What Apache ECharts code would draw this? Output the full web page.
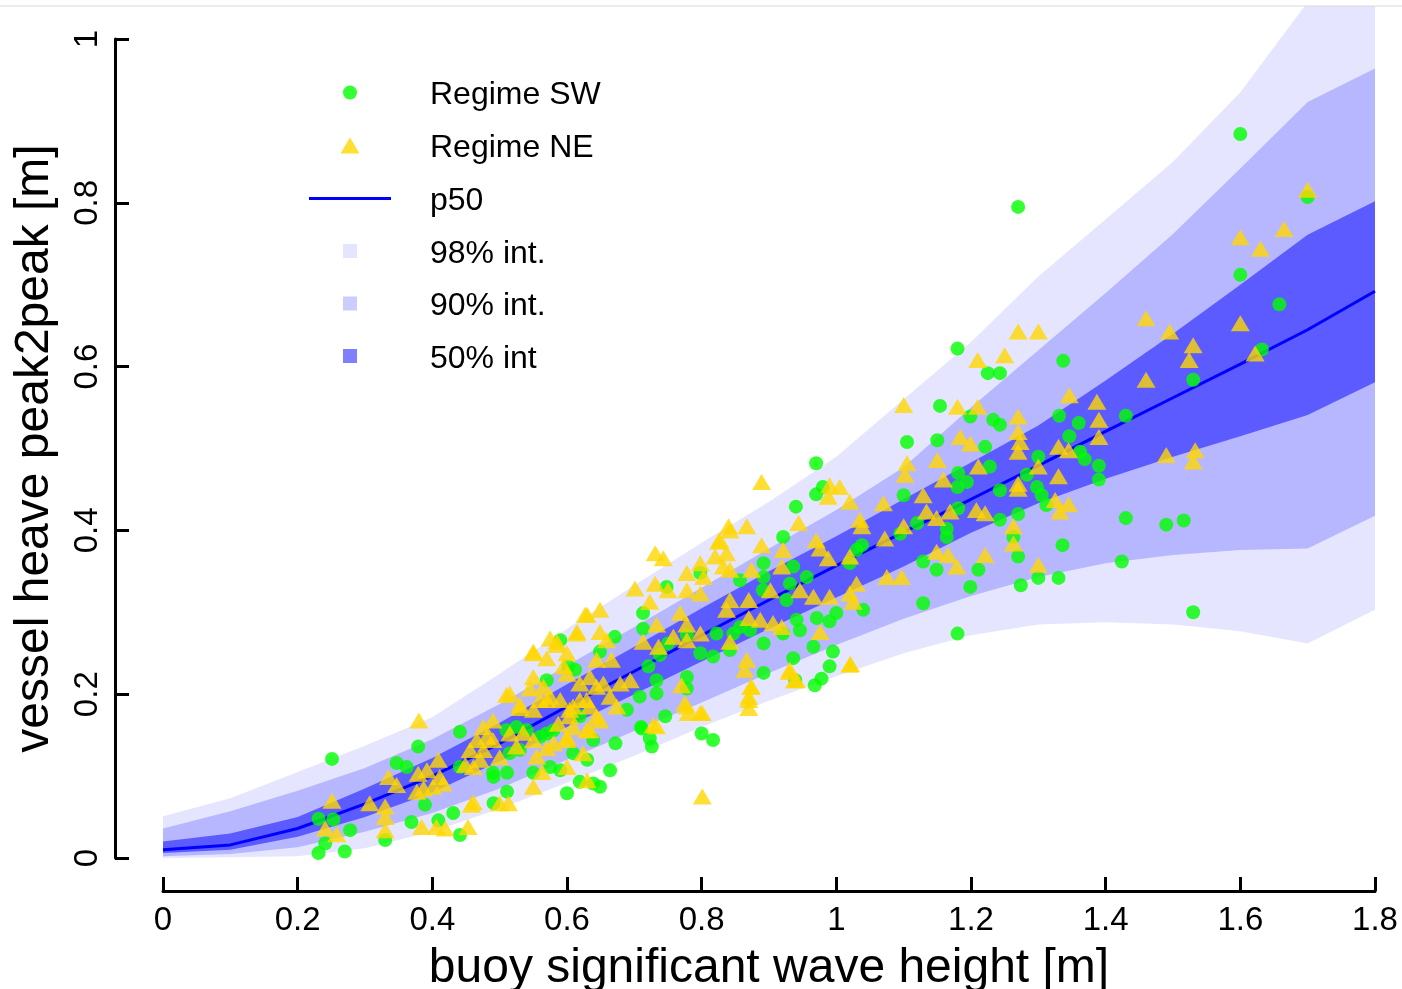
<!DOCTYPE html>
<html><head><meta charset="utf-8">
<script src="https://cdn.jsdelivr.net/npm/echarts@6/dist/echarts.min.js"></script>
<style>html,body{margin:0;padding:0;background:#fff}#c{width:1402px;height:989px}</style>
</head><body><div id="c"></div>
<script>
// ---- band grid (x = buoy Hs) ----
const bandX = [0,0.1,0.2,0.3,0.4,0.5,0.6,0.7,0.8,0.9,1.0,1.1,1.2,1.3,1.4,1.5,1.6,1.7,1.8];
const p50  = [0.010,0.016,0.036,0.066,0.100,0.140,0.185,0.228,0.272,0.315,0.357,0.398,0.438,0.479,0.521,0.562,0.603,0.645,0.692];
const hi50 = [0.020,0.030,0.050,0.085,0.122,0.165,0.212,0.258,0.305,0.350,0.393,0.438,0.483,0.528,0.583,0.640,0.700,0.761,0.802];
const lo50 = [0.006,0.010,0.026,0.050,0.080,0.118,0.160,0.200,0.240,0.280,0.318,0.356,0.397,0.433,0.463,0.490,0.515,0.541,0.581];
const hi90 = [0.036,0.057,0.082,0.110,0.145,0.188,0.235,0.282,0.330,0.378,0.425,0.477,0.550,0.620,0.690,0.762,0.842,0.923,0.964];
const lo90 = [0.002,0.005,0.013,0.032,0.055,0.085,0.120,0.155,0.190,0.226,0.260,0.292,0.320,0.343,0.360,0.370,0.376,0.378,0.418];
const hi98 = [0.051,0.073,0.105,0.137,0.172,0.225,0.280,0.333,0.385,0.435,0.490,0.560,0.630,0.710,0.780,0.850,0.935,1.045,1.160];
const lo98 = [0.000,0.001,0.002,0.012,0.032,0.060,0.092,0.125,0.160,0.192,0.222,0.250,0.272,0.285,0.288,0.285,0.277,0.262,0.303];

// ---- observations ----
const swPoints = [
[0.251,0.121],[0.231,0.048],[0.253,0.047],[0.278,0.034],[0.241,0.018],[0.231,0.006],[0.270,0.008],[0.330,0.022],
[0.347,0.116],[0.362,0.111],[0.379,0.136],[0.389,0.065],[0.369,0.044],[0.409,0.046],[0.431,0.055],[0.441,0.028],
[0.441,0.111],[0.491,0.099],[0.491,0.067],[0.441,0.154],[0.490,0.104],[0.511,0.081],[0.511,0.104],[0.550,0.104],
[0.575,0.111],[0.590,0.107],[0.600,0.079],[0.619,0.093],[0.639,0.091],[0.525,0.160],[0.580,0.156],[0.609,0.128],
[0.630,0.120],[0.649,0.087],[0.664,0.107],[0.672,0.140],[0.515,0.128],[0.530,0.132],[0.560,0.148],[0.639,0.144],
[0.619,0.173],[0.510,0.156],[0.540,0.156],[0.570,0.152],[0.570,0.217],[0.602,0.234],[0.612,0.230],[0.649,0.252],
[0.671,0.270],[0.590,0.266],[0.689,0.181],[0.711,0.158],[0.726,0.136],[0.723,0.146],[0.710,0.160],[0.746,0.173],
[0.800,0.152],[0.817,0.144],[0.708,0.197],[0.733,0.201],[0.733,0.217],[0.721,0.234],[0.778,0.221],[0.778,0.207],
[0.713,0.299],[0.713,0.280],[0.738,0.248],[0.750,0.262],[0.748,0.331],[0.778,0.272],[0.798,0.250],[0.798,0.348],
[0.817,0.246],[0.842,0.254],[0.822,0.274],[0.847,0.274],[0.857,0.282],[0.857,0.339],[0.872,0.278],[0.892,0.262],
[0.891,0.327],[0.892,0.343],[0.892,0.360],[0.921,0.274],[0.946,0.278],[0.941,0.291],[0.926,0.315],[0.931,0.335],
[0.956,0.343],[0.936,0.356],[0.921,0.392],[0.971,0.293],[0.990,0.289],[1.000,0.299],[0.892,0.226],[0.936,0.244],
[0.939,0.217],[0.966,0.258],[0.968,0.211],[0.978,0.219],[0.990,0.234],[0.995,0.252],[1.040,0.303],[1.020,0.360],
[1.030,0.376],[1.038,0.382],[0.940,0.429],[0.970,0.444],[0.980,0.453],[0.970,0.482],[1.100,0.443],[1.105,0.508],
[1.150,0.510],[1.154,0.552],[1.180,0.622],[1.199,0.539],[1.233,0.535],[1.221,0.502],[1.181,0.470],[1.194,0.459],
[1.180,0.453],[1.181,0.427],[1.228,0.478],[1.120,0.409],[1.095,0.396],[1.164,0.402],[1.164,0.392],[1.129,0.362],
[1.149,0.352],[1.199,0.331],[1.211,0.352],[1.129,0.311],[1.180,0.274],[1.243,0.592],[1.225,0.592],[1.243,0.529],
[1.337,0.607],[1.430,0.540],[1.331,0.540],[1.360,0.531],[1.346,0.515],[1.300,0.490],[1.362,0.496],[1.369,0.487],
[1.390,0.479],[1.390,0.462],[1.283,0.468],[1.298,0.453],[1.305,0.443],[1.312,0.431],[1.243,0.449],[1.270,0.420],
[1.243,0.413],[1.263,0.392],[1.270,0.368],[1.336,0.382],[1.430,0.415],[1.490,0.407],[1.516,0.412],[1.424,0.362],
[1.300,0.342],[1.330,0.342],[1.274,0.333],[1.530,0.300],[1.530,0.584],[1.632,0.621],[1.658,0.676],[1.600,0.712],
[1.700,0.807],[1.600,0.884],[1.270,0.795]
];
const nePoints = [
[0.251,0.070],[0.241,0.036],[0.258,0.029],[0.307,0.067],[0.330,0.063],[0.330,0.050],[0.330,0.034],[0.335,0.099],
[0.347,0.089],[0.384,0.038],[0.406,0.038],[0.419,0.036],[0.453,0.038],[0.458,0.065],[0.379,0.103],[0.392,0.107],
[0.409,0.120],[0.411,0.099],[0.387,0.085],[0.401,0.087],[0.416,0.091],[0.377,0.081],[0.449,0.114],[0.461,0.111],
[0.476,0.132],[0.380,0.168],[0.456,0.132],[0.466,0.144],[0.471,0.120],[0.490,0.144],[0.490,0.168],[0.500,0.123],
[0.525,0.136],[0.535,0.153],[0.550,0.087],[0.563,0.105],[0.580,0.140],[0.600,0.111],[0.630,0.095],[0.500,0.067],
[0.513,0.067],[0.461,0.068],[0.510,0.199],[0.530,0.183],[0.550,0.252],[0.570,0.244],[0.585,0.264],[0.615,0.276],
[0.630,0.297],[0.550,0.221],[0.476,0.160],[0.481,0.148],[0.515,0.152],[0.560,0.193],[0.575,0.197],[0.590,0.193],
[0.604,0.181],[0.619,0.193],[0.634,0.185],[0.644,0.209],[0.619,0.213],[0.600,0.225],[0.565,0.209],[0.545,0.207],
[0.609,0.160],[0.629,0.156],[0.644,0.173],[0.600,0.144],[0.624,0.128],[0.570,0.134],[0.555,0.124],[0.649,0.303],
[0.627,0.297],[0.614,0.274],[0.649,0.276],[0.659,0.266],[0.666,0.242],[0.644,0.242],[0.575,0.268],[0.585,0.260],
[0.550,0.250],[0.600,0.250],[0.595,0.234],[0.634,0.221],[0.654,0.213],[0.664,0.197],[0.679,0.213],[0.694,0.217],
[0.674,0.185],[0.629,0.193],[0.609,0.185],[0.570,0.193],[0.550,0.181],[0.530,0.187],[0.515,0.201],[0.587,0.164],
[0.604,0.173],[0.634,0.156],[0.649,0.168],[0.728,0.162],[0.775,0.189],[0.780,0.177],[0.798,0.177],[0.770,0.211],
[0.550,0.144],[0.600,0.148],[0.870,0.183],[0.870,0.197],[0.873,0.209],[0.801,0.177],[0.778,0.185],[0.733,0.161],
[1.021,0.237],[0.938,0.217],[0.930,0.227],[0.801,0.075],[0.713,0.264],[0.701,0.329],[0.731,0.372],[0.743,0.366],
[0.750,0.327],[0.731,0.335],[0.778,0.348],[0.825,0.386],[0.842,0.400],[0.778,0.327],[0.798,0.323],[0.778,0.266],
[0.723,0.313],[0.736,0.258],[0.733,0.285],[0.768,0.299],[0.758,0.270],[0.778,0.285],[0.798,0.274],[0.842,0.264],
[0.906,0.287],[0.919,0.282],[0.887,0.291],[0.870,0.293],[0.867,0.242],[0.864,0.230],[0.874,0.209],[0.870,0.193],
[0.842,0.315],[0.837,0.303],[0.870,0.315],[0.874,0.352],[0.842,0.352],[0.832,0.356],[0.803,0.343],[0.798,0.360],
[0.820,0.368],[0.837,0.372],[0.827,0.388],[0.840,0.405],[0.867,0.405],[0.889,0.382],[0.889,0.459],[0.902,0.327],
[0.919,0.356],[0.921,0.376],[0.931,0.230],[0.941,0.217],[0.946,0.327],[0.966,0.319],[0.990,0.319],[0.976,0.276],
[1.020,0.236],[0.944,0.409],[0.970,0.388],[0.976,0.378],[0.988,0.366],[1.020,0.368],[1.030,0.335],[1.020,0.323],
[1.025,0.313],[0.990,0.455],[1.005,0.453],[1.020,0.435],[0.988,0.441],[1.035,0.413],[1.038,0.405],[1.070,0.433],
[1.100,0.405],[1.072,0.390],[1.129,0.443],[1.134,0.423],[1.149,0.415],[1.169,0.423],[1.208,0.425],[1.221,0.421],
[1.149,0.374],[1.166,0.370],[1.179,0.356],[1.221,0.370],[1.075,0.343],[1.097,0.343],[1.105,0.482],[1.102,0.468],
[1.150,0.486],[1.159,0.462],[1.211,0.478],[1.184,0.514],[1.199,0.506],[1.100,0.553],[1.180,0.551],[1.210,0.551],
[1.210,0.608],[1.270,0.643],[1.300,0.643],[1.250,0.614],[1.460,0.659],[1.495,0.643],[1.600,0.653],[1.530,0.626],
[1.524,0.608],[1.622,0.616],[1.460,0.584],[1.346,0.565],[1.387,0.557],[1.390,0.535],[1.390,0.514],[1.270,0.539],
[1.270,0.520],[1.273,0.508],[1.270,0.496],[1.330,0.502],[1.345,0.498],[1.300,0.478],[1.330,0.466],[1.270,0.457],
[1.270,0.451],[1.325,0.437],[1.345,0.432],[1.332,0.423],[1.263,0.405],[1.263,0.384],[1.300,0.358],[1.490,0.492],
[1.533,0.498],[1.530,0.484],[1.700,0.816],[1.600,0.758],[1.630,0.744],[1.665,0.768]
];

const xTitle = 'buoy significant wave height [m]';
const yTitle = 'vessel heave peak2peak [m]';
const FONT = 'Liberation Sans, Arial, Helvetica, sans-serif';

const pairs = arr => bandX.map((x, i) => [x, arr[i]]);

function bandSeries(name, lo, hi, color) {
  return {
    type: 'custom', name: name, coordinateSystem: 'cartesian2d', xAxisIndex: 0, yAxisIndex: 0,
    data: bandX.map((x, i) => [x, lo[i], hi[i]]),
    encode: { x: 0, y: [1, 2] },
    itemStyle: { color: color }, silent: true, clip: true, z: 1,
    renderItem: function (params, api) {
      if (params.dataIndex !== 0) return null;
      const pts = [];
      for (let i = 0; i < bandX.length; i++) pts.push(api.coord([bandX[i], hi[i]]));
      for (let i = bandX.length - 1; i >= 0; i--) pts.push(api.coord([bandX[i], lo[i]]));
      const cs = params.coordSys;
      return {
        type: 'polygon', shape: { points: pts }, style: { fill: color },
        clipPath: { type: 'rect', shape: { x: cs.x, y: cs.y, width: cs.width, height: cs.height } }
      };
    }
  };
}

const C98 = 'rgba(0,0,255,0.1)', C90 = 'rgba(0,0,255,0.2)', C50 = 'rgba(0,0,255,0.5)';

function leg(name, icon, w, h, cy, color) {
  return {
    data: [{ name: name, icon: icon, itemStyle: { color: color, borderWidth: 0 } }],
    left: 350 - w / 2, top: cy - 13, itemWidth: w, itemHeight: h, padding: 0,
    selectedMode: false,
    formatter: n => '{t|' + n + '}',
    textStyle: { fontSize: 32, fontFamily: FONT, color: '#000',
      rich: { t: { fontSize: 32, fontFamily: FONT, color: '#000', padding: [6, 0, 0, 75 - w / 2] } } }
  };
}

const chart = echarts.init(document.getElementById('c'), null, { renderer: 'canvas' });
chart.setOption({
  animation: false,
  backgroundColor: '#fff',
  grid: [
    { left: 114.5, width: 1287.5, top: 6.24, height: 884.52, containLabel: false, outerBoundsMode: 'none' },
    { left: 163, right: 27, top: 39, bottom: 131, containLabel: false, outerBoundsMode: 'none' }
  ],
  xAxis: [
    { gridIndex: 0, type: 'value', min: -0.072, max: 1.84013, show: false },
    { gridIndex: 1, type: 'value', min: 0, max: 1.8, interval: 0.2, offset: 33,
      axisLine: { show: true, onZero: false, lineStyle: { color: '#000', width: 3 } },
      axisTick: { show: true, inside: true, length: 14, lineStyle: { color: '#000', width: 3 } },
      axisLabel: { fontSize: 33, fontFamily: FONT, color: '#000', margin: 13 },
      splitLine: { show: false },
      name: xTitle, nameLocation: 'middle', nameGap: 54,
      nameTextStyle: { fontSize: 48, fontFamily: FONT, color: '#000' } }
  ],
  yAxis: [
    { gridIndex: 0, type: 'value', min: -0.04, max: 1.04, show: false },
    { gridIndex: 1, type: 'value', min: 0, max: 1, interval: 0.2, offset: 48,
      axisLine: { show: true, onZero: false, lineStyle: { color: '#000', width: 3 } },
      axisTick: { show: true, inside: true, length: 14, lineStyle: { color: '#000', width: 3 } },
      axisLabel: { fontSize: 33, fontFamily: FONT, color: '#000', margin: 11, rotate: 90 },
      splitLine: { show: false },
      name: yTitle, nameLocation: 'middle', nameGap: 56, nameRotate: 90,
      nameTextStyle: { fontSize: 48, fontFamily: FONT, color: '#000' } }
  ],
  legend: [
    leg('Regime SW', 'circle', 14, 14, 92.5, '#00ff00'),
    leg('Regime NE', 'triangle', 19, 16, 145.5, '#ffd700'),
    leg('p50', 'rect', 82, 3, 198.5, '#0000ff'),
    leg('98% int.', 'rect', 14, 14, 251, C98),
    leg('90% int.', 'rect', 14, 14, 303.5, C90),
    leg('50% int', 'rect', 14, 14, 356, C50)
  ],
  graphic: [{ type: 'line', shape: { x1: 0, y1: 6, x2: 1402, y2: 6 }, style: { stroke: '#e6e6e6', lineWidth: 1.5 }, silent: true }],
  series: [
    bandSeries('98% int.', lo98, hi98, C98),
    bandSeries('90% int.', lo90, hi90, C90),
    bandSeries('50% int', lo50, hi50, C50),
    { type: 'line', name: 'p50', data: pairs(p50), xAxisIndex: 0, yAxisIndex: 0, symbol: 'none',
      lineStyle: { color: '#0000ff', width: 3 }, itemStyle: { color: '#0000ff' }, silent: true, z: 2 },
    { type: 'scatter', name: 'Regime SW', data: swPoints, xAxisIndex: 0, yAxisIndex: 0,
      symbol: 'circle', symbolSize: 14, itemStyle: { color: '#00ff00' }, silent: true, z: 3 },
    { type: 'scatter', name: 'Regime NE', data: nePoints, xAxisIndex: 0, yAxisIndex: 0,
      symbol: 'triangle', symbolSize: [19, 16], itemStyle: { color: '#ffd700' }, silent: true, z: 4 }
  ]
});
</script></body></html>
